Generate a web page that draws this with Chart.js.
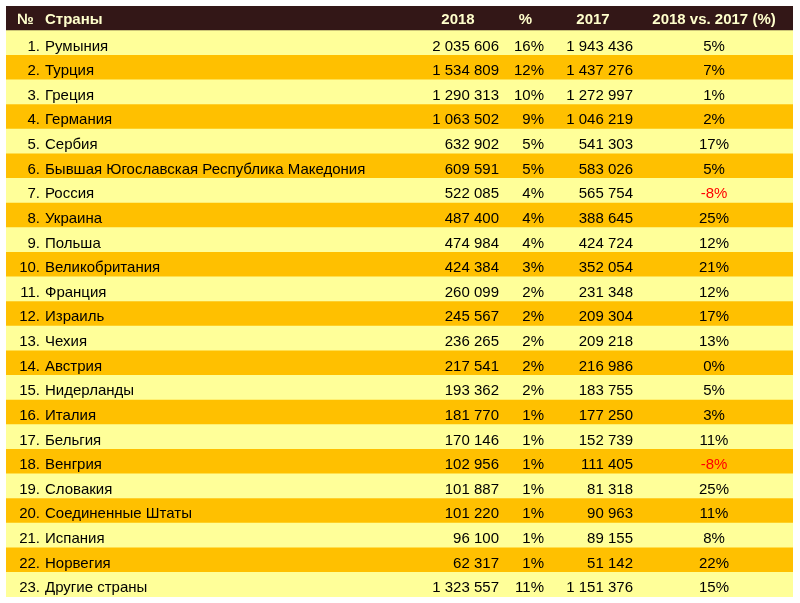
<!DOCTYPE html>
<html>
<head>
<meta charset="utf-8">
<script src="https://cdn.jsdelivr.net/npm/chart.js@4/dist/chart.umd.min.js"></script>
<style>
html,body{margin:0;padding:0;background:#fff;}
#wrap{width:800px;height:603px;position:relative;}
</style>
</head>
<body>
<div id="wrap"><canvas id="c"></canvas></div>
<script>
const headers = ['№', 'Страны', '2018', '%', '2017', '2018 vs. 2017 (%)'];
const countries = ['Румыния','Турция','Греция','Германия','Сербия','Бывшая Югославская Республика Македония','Россия','Украина','Польша','Великобритания','Франция','Израиль','Чехия','Австрия','Нидерланды','Италия','Бельгия','Венгрия','Словакия','Соединенные Штаты','Испания','Норвегия','Другие страны'];
const v2018 = [2035606,1534809,1290313,1063502,632902,609591,522085,487400,474984,424384,260099,245567,236265,217541,193362,181770,170146,102956,101887,101220,96100,62317,1323557];
const share2018 = [16,12,10,9,5,5,4,4,4,3,2,2,2,2,2,1,1,1,1,1,1,1,11];
const v2017 = [1943436,1437276,1272997,1046219,541303,583026,565754,388645,424724,352054,231348,209304,209218,216986,183755,177250,152739,111405,81318,90963,89155,51142,1151376];
const change = [5,7,1,2,17,5,-8,25,12,21,12,17,13,0,5,3,11,-8,25,11,8,22,15];

const HEADER_BG = '#331717';
const LIGHT = '#ffff99';
const ORANGE = '#ffc000';

const rowLabels = ['header'].concat(countries);
const rowColors = rowLabels.map((_, i) => i === 0 ? HEADER_BG : (i % 2 === 1 ? LIGHT : ORANGE));

function fmt(n) {
  return String(n).replace(/\B(?=(\d{3})+(?!\d))/g, ' ');
}

const tableText = {
  id: 'tableText',
  afterDatasetsDraw(chart) {
    const ctx = chart.ctx;
    const ys = chart.scales.y;
    const L = chart.chartArea.left;
    const cNumR = 34, cName = 39, c2018R = 493, cHdr2018 = 452, cPctR = 538, cHdrPct = 519.5, c2017R = 627, cHdr2017 = 587, cChg = 708;
    ctx.save();
    ctx.textBaseline = 'middle';
    let y = ys.getPixelForValue(0) + 1.5;
    ctx.font = 'bold 15px "Liberation Sans", Arial, sans-serif';
    ctx.fillStyle = '#ffffcc';
    ctx.textAlign = 'left';
    ctx.fillText(headers[0], L + 11, y);
    ctx.fillText(headers[1], L + 39, y);
    ctx.textAlign = 'center';
    ctx.fillText(headers[2], L + cHdr2018, y);
    ctx.fillText(headers[3], L + cHdrPct, y);
    ctx.fillText(headers[4], L + cHdr2017, y);
    ctx.fillText(headers[5], L + cChg, y);
    ctx.font = '15px "Liberation Sans", Arial, sans-serif';
    countries.forEach((name, i) => {
      const yy = ys.getPixelForValue(i + 1) + 3.5;
      ctx.fillStyle = '#000';
      ctx.textAlign = 'right';
      ctx.fillText((i + 1) + '.', L + cNumR, yy);
      ctx.textAlign = 'left';
      ctx.fillText(name, L + cName, yy);
      ctx.textAlign = 'right';
      ctx.fillText(fmt(v2018[i]), L + c2018R, yy);
      ctx.fillText(share2018[i] + '%', L + cPctR, yy);
      ctx.fillText(fmt(v2017[i]), L + c2017R, yy);
      ctx.textAlign = 'center';
      ctx.fillStyle = change[i] < 0 ? '#ff0000' : '#000';
      ctx.fillText(change[i] + '%', L + cChg, yy);
    });
    ctx.restore();
  }
};

new Chart(document.getElementById('c'), {
  type: 'bar',
  data: {
    labels: rowLabels,
    datasets: [{
      data: rowLabels.map(() => 1),
      backgroundColor: rowColors,
      borderWidth: 0,
      categoryPercentage: 1,
      barPercentage: 1
    }]
  },
  options: {
    indexAxis: 'y',
    responsive: true,
    maintainAspectRatio: false,
    animation: false,
    layout: { padding: { top: 6, left: 6, right: 7, bottom: 6 } },
    scales: {
      x: { type: 'linear', min: 0, max: 1, display: false },
      y: { type: 'category', display: false }
    },
    plugins: { legend: { display: false }, tooltip: { enabled: false } }
  },
  plugins: [tableText]
});
</script>
</body>
</html>
